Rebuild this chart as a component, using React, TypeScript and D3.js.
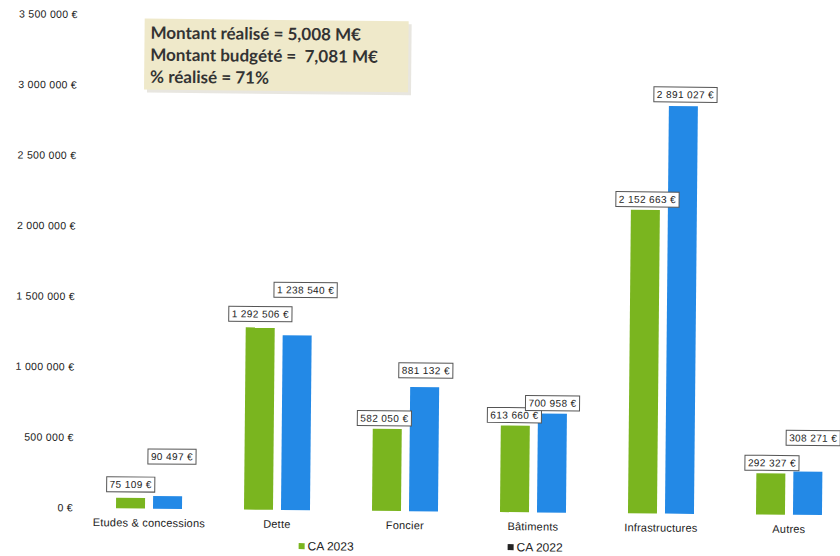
import React from "react";
import * as d3 from "d3";

const categories = ["Etudes & concessions", "Dette", "Foncier", "Bâtiments", "Infrastructures", "Autres"];
const ca2023 = [75109, 1292506, 582050, 613660, 2152663, 292327];
const ca2022 = [90497, 1238540, 881132, 700958, 2891027, 308271];
const yTicks = [0, 500000, 1000000, 1500000, 2000000, 2500000, 3000000, 3500000];
const seriesNames = ["CA 2023", "CA 2022"];
const summaryLines = ["Montant réalisé = 5,008 M€", "Montant budgété =  7,081 M€", "% réalisé = 71%"];

// layout only: label nudges (dx) and gap above bar
const labelDx2023 = [0, 0, -3, -1, 2, 1];
const labelGap2023 = [6, 6, 3, 3, 3, 3];
const labelDx2022 = [4, 8, 1, 0, 2, 5];
const labelGap2022 = [32, 38, 9, 3, 4, 26];

const GREEN = "#7ab51f";
const BLUE = "#2389e6";
const FONT = "'Liberation Sans', Arial, sans-serif";

const fr = d3.formatLocale({ decimal: ",", thousands: "\u00a0", grouping: [3], currency: ["", ""] });
const fmt = (v: number) => fr.format(",.0f")(v).replace(/\u00a0/g, " ") + " €";

let ctx: CanvasRenderingContext2D | null = null;
function measure(text: string, font: string, ls: number) {
  if (!ctx) ctx = document.createElement("canvas").getContext("2d");
  if (!ctx) return text.length * 5.5;
  ctx.font = font;
  return ctx.measureText(text).width + ls * text.length;
}

export default function App() {
  const W = 840, H = 556;
  const x = d3.scaleBand<string>().domain(categories).range([85, 853]).padding(0);
  const y = d3.scaleLinear().domain([0, 3500000]).range([508, 508 - 3.5 * 141]);
  const barW = 29;
  const inner = 4;

  const labelFontSize = 10;
  const labelLS = 0.4;

  const renderLabel = (v: number, cx: number, gap: number, key: string) => {
    const t = fmt(v);
    const w = measure(t, `${labelFontSize}px 'Liberation Sans'`, labelLS) + 6;
    const h = 15;
    const bottom = y(v) - gap;
    return (
      <g key={key}>
        <rect x={cx - w / 2} y={bottom - h} width={w} height={h} fill="#fff" stroke="#555" strokeWidth={1} />
        <text x={cx} y={bottom - 4} textAnchor="middle" fontSize={labelFontSize} letterSpacing={labelLS} fill="#222" fontFamily={FONT}>{t}</text>
      </g>
    );
  };

  return (
    <svg width={W} height={H} style={{ position: "absolute", left: 0, top: 0, background: "#fff" }}>
      <rect x={0} y={0} width={W} height={H} fill="#fff" />
      <g transform="rotate(0.55, 80, 508)">
        {/* y tick labels */}
        {yTicks.map((t) => (
          <text key={t} x={73} y={y(t) + 3.5} textAnchor="end" fontSize={10.5} letterSpacing={0.3} fill="#222" fontFamily={FONT}>{fmt(t)}</text>
        ))}

        {/* summary box */}
        <rect x={143} y={21} width={264} height={71} fill="#d9d6cc" opacity={0.6} />
        <rect x={140} y={18} width={264} height={71} fill="#efe9ca" />
        {summaryLines.map((l, i) => (
          <text key={i} x={146} y={38 + i * 22} fontSize={17} fontWeight="bold" fill="#333" fontFamily="Lato, 'Open Sans', sans-serif" style={{ whiteSpace: "pre" }}>{l}</text>
        ))}

        {/* bars */}
        {categories.map((c, i) => {
          const cx = (x(c) as number) + x.bandwidth() / 2;
          return (
            <g key={c}>
              <rect x={cx - inner - barW} y={y(ca2023[i])} width={barW} height={y(0) - y(ca2023[i])} fill={GREEN} />
              <rect x={cx + inner} y={y(ca2022[i])} width={barW} height={y(0) - y(ca2022[i])} fill={BLUE} />
            </g>
          );
        })}

        {/* labels */}
        {categories.map((c, i) => {
          const cx = (x(c) as number) + x.bandwidth() / 2;
          return (
            <g key={"l" + c}>
              {renderLabel(ca2023[i], cx - inner - barW / 2 + labelDx2023[i], labelGap2023[i], "a" + i)}
              {renderLabel(ca2022[i], cx + inner + barW / 2 + labelDx2022[i], labelGap2022[i], "b" + i)}
            </g>
          );
        })}

        {/* category labels */}
        {categories.map((c) => (
          <text key={"c" + c} x={(x(c) as number) + x.bandwidth() / 2} y={526} textAnchor="middle" fontSize={11} letterSpacing={0.2} fill="#222" fontFamily={FONT}>{c}</text>
        ))}

        {/* legend */}
        <rect x={299} y={541} width={6} height={6} fill={GREEN} />
        <text x={308} y={548} fontSize={12} fill="#222" fontFamily={FONT}>{seriesNames[0]}</text>
        <rect x={508} y={540} width={6} height={6} fill="#222" />
        <text x={517} y={547} fontSize={12} fill="#222" fontFamily={FONT}>{seriesNames[1]}</text>
      </g>
    </svg>
  );
}
